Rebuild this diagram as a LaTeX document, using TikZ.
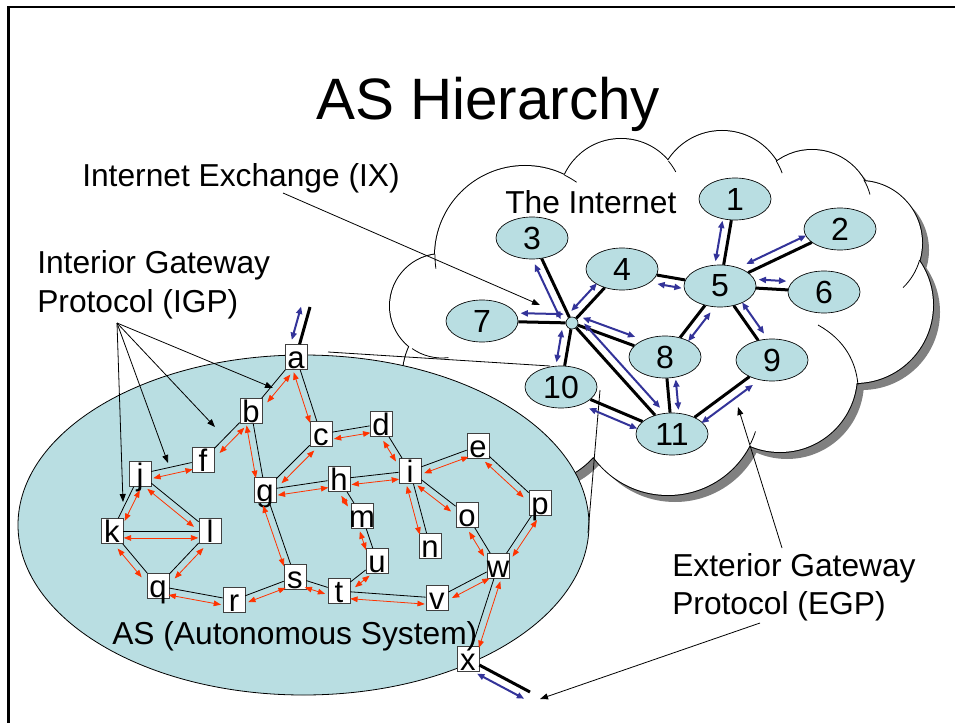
\documentclass[tikz,border=0pt]{standalone}
\usepackage{fontspec}
\setmainfont{Liberation Sans}
\usetikzlibrary{arrows.meta,calc,shapes.geometric}
\definecolor{lb}{RGB}{185,222,226}
\definecolor{rd}{RGB}{255,51,0}
\definecolor{bl}{RGB}{51,51,153}
\definecolor{shd}{RGB}{128,128,128}
\newcommand\bxt[1]{\makebox[15pt]{#1}}
\newcommand\rl[2]{\draw[blk] (#1) -- (#2);
  \draw[redarr, transform canvas={shift={($(#1)!5.2pt!90:(#2)-(#1)$)}}] (#1) -- (#2);}
\newcommand\bli[2]{\draw[thk] (#1) -- (#2);
  \draw[bluarr, transform canvas={shift={($(#1)!6.5pt!90:(#2)-(#1)$)}}] (#1) -- (#2);}
\newcommand\cloudshape{%
  \foreach \cx/\cy/\r in {442/306/52, 525/256/90, 621/201/62, 722/195/64, 812/210/60,
     860/243/62, 855/305/78, 780/375/77, 668/403/92, 530/400/85, 470/375/67}
     {(\cx,\cy) circle (\r)}
  (660,300) ellipse [x radius=200, y radius=120]}
\begin{document}
\begin{tikzpicture}[x=0.75pt,y=-0.75pt,
  lbl/.style={font=\fontsize{23.8}{28}\selectfont, inner sep=0pt, anchor=base west},
  ttl/.style={font=\fontsize{43.8}{50}\selectfont, inner sep=0pt, anchor=base west},
  bx/.style={draw=black!75, fill=white, line width=0.5pt, minimum width=16.5pt,
     minimum height=18.75pt, inner sep=0pt, text height=17pt, text depth=0pt,
     font=\fontsize{23.3}{28}\selectfont},
  asn/.style={ellipse, draw=black, line width=0.5pt, fill=lb, minimum width=54pt,
     minimum height=31.5pt, inner sep=0pt, font=\fontsize{24}{28}\selectfont},
  blk/.style={line width=0.6pt, black},
  redarr/.style={line width=0.6pt, rd,
     {Triangle[length=5.5pt,width=4.2pt]}-{Triangle[length=5.5pt,width=4.2pt]},
     shorten <=0.3pt, shorten >=0.3pt},
  thk/.style={line width=2.25pt, black},
  bluarr/.style={line width=1.5pt, bl,
     {Triangle[length=5.5pt,width=4.5pt]}-{Triangle[length=5.5pt,width=4.5pt]},
     shorten <=1.5pt, shorten >=1.5pt},
  call/.style={line width=0.6pt, black, -{Triangle[length=6pt,width=4.5pt]}},
  thinl/.style={line width=0.6pt, black}
]
\useasboundingbox (0,0) rectangle (955,723);
% slide frame
\draw[line width=1.9pt] (8.5,723) -- (8.5,7) -- (955,7);

% cloud
\begin{scope}[shift={(7,7)}]
  \fill[shd] \cloudshape;
\end{scope}
\draw[line width=1.5pt] \cloudshape;
\fill[white] \cloudshape;
\draw[thinl] (442,306) ++(125:52) arc[start angle=125, end angle=83, radius=52];
\draw[thinl] (525,256) ++(181:90) arc[start angle=181, end angle=172, radius=90];
\draw[thinl] (525,256) ++(-64:90) arc[start angle=-64, end angle=-55, radius=90];
\draw[thinl] (621,201) ++(-40:62) arc[start angle=-40, end angle=-28, radius=62];
\draw[thinl] (722,195) ++(-32:64) arc[start angle=-32, end angle=-20, radius=64];
\draw[thinl] (812,210) ++(-30:60) arc[start angle=-30, end angle=-15, radius=60];
\draw[thinl] (860,243) ++(16:62) arc[start angle=16, end angle=46, radius=62];
\draw[thinl] (818,325) .. controls (845,340) and (856,362) .. (858,385);
\draw[thinl] (668,403) ++(26.6:92) arc[start angle=26.6, end angle=18, radius=92];

% AS ellipse
\draw[line width=0.6pt, fill=lb] (303.5,525) ellipse [x radius=285.5, y radius=170];

% zoom lines
\coordinate (z1) at (328,352); \coordinate (z2) at (550,366);
\coordinate (z3) at (600,390); \coordinate (z4) at (588,533);
\draw[thinl] (z1) -- (z2);
\draw[thinl] (z3) -- (z4);

% Internet nodes
\node[asn] (n1) at (735,199) {1};
\node[asn] (n2) at (840,229) {2};
\node[asn] (n3) at (532,238) {3};
\node[asn] (n4) at (622,269) {4};
\node[asn] (n5) at (720,286) {5};
\node[asn] (n6) at (824,292) {6};
\node[asn] (n7) at (482,321) {7};
\node[asn] (n8) at (665,357) {8};
\node[asn] (n9) at (772,360) {9};
\node[asn] (n10) at (561,387) {10};
\node[asn] (n11) at (672,434) {11};
\node[circle, draw, fill=lb, minimum size=9pt, inner sep=0pt, line width=0.5pt] (IX) at (572,323) {};

\bli{IX}{n3} \bli{IX}{n4} \bli{n7}{IX} \bli{IX}{n8} \bli{n10}{IX} \bli{IX}{n11}
\bli{n11}{n10} \bli{n5}{n4} \bli{n5}{n8} \bli{n8}{n11} \bli{n5}{n1} \bli{n5}{n2}
\bli{n5}{n6} \bli{n5}{n9} \bli{n9}{n11}

% AS boxes
\node[bx] (a) at (296,357) {\bxt{a}};
\node[bx] (b) at (251,411) {\bxt{b}};
\node[bx] (c) at (321,434) {\bxt{c}};
\node[bx] (d) at (381,424) {\bxt{d}};
\node[bx] (e) at (478,446) {\bxt{e}};
\node[bx] (f) at (203,460) {\bxt{f}};
\node[bx] (g) at (265,490) {\bxt{g}};
\node[bx] (h) at (339,479) {\bxt{h}};
\node[bx] (i) at (410,471) {\bxt{i}};
\node[bx] (j) at (140,474) {\bxt{j}};
\node[bx] (k) at (112,531) {\bxt{k}};
\node[bx] (l) at (210,531) {\bxt{l}};
\node[bx] (m) at (362,516) {\bxt{m}};
\node[bx] (n) at (430,546) {\bxt{n}};
\node[bx] (o) at (467,515) {\bxt{o}};
\node[bx] (p) at (540,503) {\bxt{p}};
\node[bx] (q) at (158,586) {\bxt{q}};
\node[bx] (r) at (234,600) {\bxt{r}};
\node[bx] (s) at (295,577) {\bxt{s}};
\node[bx] (t) at (339,591) {\bxt{t}};
\node[bx] (u) at (377,561) {\bxt{u}};
\node[bx] (v) at (437,598) {\bxt{v}};
\node[bx] (w) at (498,566) {\bxt{w}};
\node[bx] (x) at (468,659) {\bxt{x}};

\rl{a}{b} \rl{c}{a} \rl{b}{f} \rl{f}{j} \rl{g}{b} \rl{c}{g} \rl{h}{g} \rl{j}{k}
\rl{l}{j} \rl{l}{k} \rl{q}{k} \rl{l}{q} \rl{r}{q} \rl{s}{r} \rl{s}{g} \rl{d}{c}
\rl{i}{d} \rl{i}{h} \rl{e}{i} \rl{p}{e} \rl{o}{i} \rl{n}{i} \rl{m}{h} \rl{u}{m}
\rl{u}{t} \rl{t}{s} \rl{v}{t} \rl{w}{v} \rl{w}{o} \rl{p}{w} \rl{w}{x}

% external stubs
\coordinate (atop) at (310,307);
\coordinate (xend) at (530,692);
\bli{a}{atop}
\bli{xend}{x}

% labels
\node[ttl] (title) at (316,120) {AS Hierarchy};
\node[lbl] (ixl) at (82,187) {Internet Exchange (IX)};
\node[lbl] (inet) at (505,214) {The Internet};
\node[lbl] (igp1) at (37,274) {Interior Gateway};
\node[lbl] (igp2) at (37,312) {Protocol (IGP)};
\node[lbl] (egp1) at (672,576) {Exterior Gateway};
\node[lbl] (egp2) at (672,614) {Protocol (EGP)};
\node[lbl] (asl) at (112,644) {AS (Autonomous System)};

% callouts
\coordinate (igpo) at (117,323);
\coordinate (tk) at (123,502);
\coordinate (tj) at (168,463);
\coordinate (tf) at (215,427);
\coordinate (ta) at (273,388);
\draw[call] (igpo) -- (tk);
\draw[call] (igpo) -- (tj);
\draw[call] (igpo) -- (tf);
\draw[call] (igpo) -- (ta);
\coordinate (ixs) at (283,193);
\coordinate (ixt) at (540,305);
\draw[call] (ixs) -- (ixt);
\coordinate (egs1) at (782,548);
\coordinate (egt1) at (738,407);
\coordinate (egs2) at (760,623);
\coordinate (egt2) at (540,699);
\draw[call] (egs1) -- (egt1);
\draw[call] (egs2) -- (egt2);
\end{tikzpicture}
\end{document}
